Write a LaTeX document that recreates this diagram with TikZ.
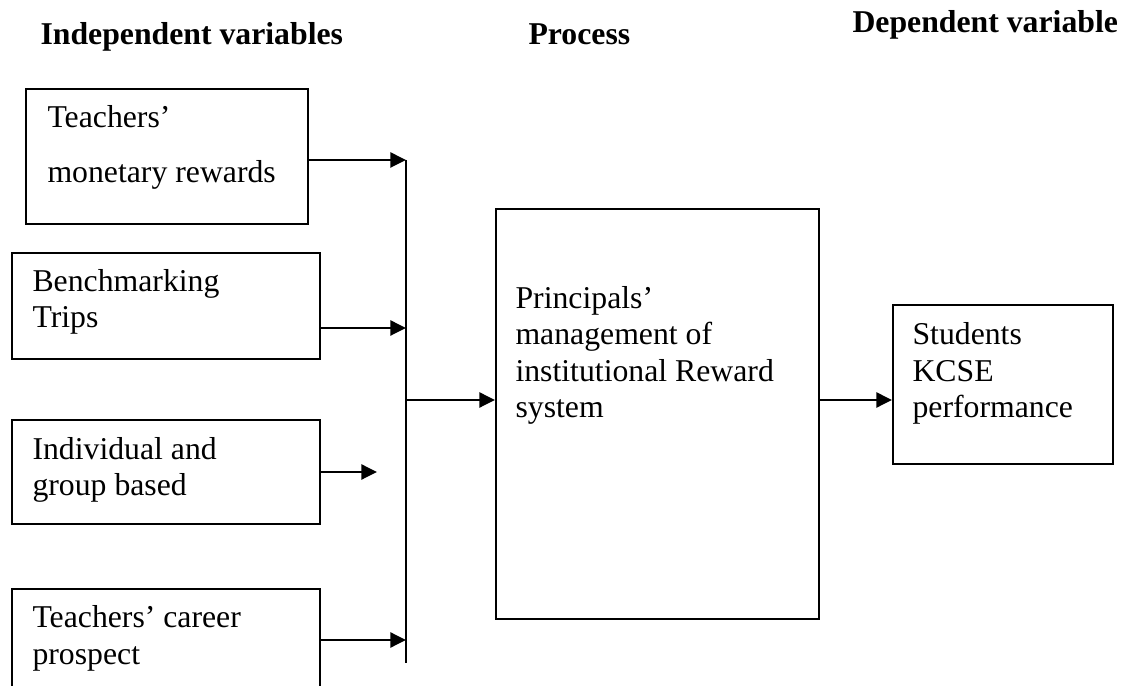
\documentclass[tikz,border=0pt]{standalone}
\usepackage{fontspec}
\setmainfont{Liberation Serif}
\usetikzlibrary{arrows.meta}
\newcommand{\pxu}{0.378pt}
\tikzset{
    box/.style={draw, line width=0.75pt, inner sep=0pt, anchor=north west},
    txt/.style={inner sep=0pt, anchor=base west, align=left, font=\fontsize{12}{13.8}\selectfont},
    head/.style={inner sep=0pt, anchor=base west, font=\fontsize{12}{13.8}\selectfont\bfseries},
    arr/.style={line width=0.75pt, -{Triangle[length=5.9pt,width=5.7pt]}}
}
\begin{document}
\begin{tikzpicture}[x=0.378pt, y=-0.378pt]
    \useasboundingbox (0,0) rectangle (1136,686);

    % Titles
    \node[head] (indep) at (40,45) {Independent variables};
    \node[head] (process) at (528,45) {Process};
    \node[head] (dep) at (852,33) {Dependent variable};

    % Independent variables (text placed on the baseline of its last line)
    \node[box, minimum width=282*\pxu, minimum height=135*\pxu] (tmr) at (25,88) {};
    \node[txt] (tmr-t) at (47,183) {Teachers’\\[7pt]monetary rewards};

    \node[box, minimum width=308*\pxu, minimum height=106*\pxu] (bench) at (11,252) {};
    \node[txt] (bench-t) at (32,328) {Benchmarking\\Trips};

    \node[box, minimum width=308*\pxu, minimum height=104*\pxu] (indiv) at (11,419) {};
    \node[txt] (indiv-t) at (32,496) {Individual and\\group based};

    \node[box, minimum width=308*\pxu, minimum height=110*\pxu] (career) at (11,588) {};
    \node[txt] (career-t) at (32,664) {Teachers’ career\\prospect};

    % Process
    \node[box, minimum width=323*\pxu, minimum height=410*\pxu] (proc) at (495,208) {};
    \node[txt] (proc-t) at (515,418) {Principals’\\management of\\institutional Reward\\system};

    % Dependent variable
    \node[box, minimum width=220*\pxu, minimum height=159*\pxu] (stud) at (892,304) {};
    \node[txt] (stud-t) at (912,418) {Students\\KCSE\\performance};

    % Arrows
    \coordinate (bustop) at (406,160);
    \coordinate (busbot) at (406,663);
    \coordinate (in2) at (406,328);
    \coordinate (in3) at (377,472);
    \coordinate (in4) at (406,640);
    \coordinate (out) at (406,400);

    \draw[line width=0.75pt] (bustop) -- (busbot);
    \draw[arr] (tmr.east |- bustop) -- (bustop);
    \foreach \b/\p in {bench/in2, indiv/in3, career/in4}
        \draw[arr] (\b.east |- \p) -- (\p);
    \draw[arr] (out) -- (proc.west |- out);
    \draw[arr] (proc.east |- out) -- (stud.west |- out);
\end{tikzpicture}
\end{document}
